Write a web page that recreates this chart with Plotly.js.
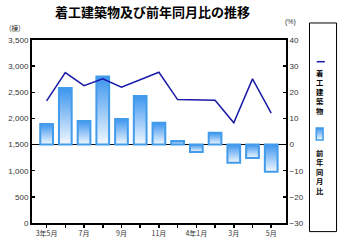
<!DOCTYPE html>
<html>
<head>
<meta charset="utf-8">
<script src="https://cdn.plot.ly/plotly-3.0.1.min.js"></script>
<style>html,body{margin:0;padding:0;background:#fff;}#chart{width:339px;height:240px;}</style>
</head>
<body>
<div id="chart"></div>
<script>
const categories = ['3年5月','6月','7月','8月','9月','10月','11月','12月','4年1月','2月','3月','4月','5月'];
const tickLabels = ['3年5月','','7月','','9月','','11月','','4年1月','','3月','','5月'];
const buildings = [2336, 2876, 2628, 2756, 2598, 2737, 2884, 2361, 2361, 2349, 1916, 2756, 2101];
const yoyPercent = [7.9, 21.6, 9.0, 26.0, 9.8, 18.6, 8.3, 1.4, -2.8, 4.5, -7.0, -5.1, -10.4];
const leftTicks = [0, 500, 1000, 1500, 2000, 2500, 3000, 3500];
const rightTicks = [-30, -20, -10, 0, 10, 20, 30, 40];

const tickFont = {family: 'Liberation Sans, Arial, sans-serif', size: 8, color: '#333'};
const cjk = 'Noto Sans CJK JP, sans-serif';

const traces = [
  {
    type: 'bar', name: '前年同月比', x: categories, y: yoyPercent, yaxis: 'y',
    width: 0.68,
    marker: {color: '#7fbcf3', line: {color: '#429ce9', width: 2}},
    hoverinfo: 'skip'
  },
  {
    type: 'scatter', mode: 'lines', name: '着工建築物', x: categories, y: buildings, yaxis: 'y2',
    line: {color: '#1a1aa8', width: 1.5},
    hoverinfo: 'skip'
  }
];

const layout = {
  width: 339, height: 240,
  margin: {l: 32, r: 53, t: 40, b: 17, pad: 0},
  paper_bgcolor: '#fff', plot_bgcolor: '#fff',
  showlegend: false,
  title: {
    text: '着工建築物及び前年同月比の推移',
    font: {family: cjk, size: 13, color: '#000', weight: 'bold'},
    xref: 'container', yref: 'container', x: 0.45, y: 0.948, xanchor: 'center', yanchor: 'middle'
  },
  xaxis: {
    type: 'category', range: [-0.78, 12.79],
    tickvals: categories, ticktext: tickLabels,
    ticks: 'outside', ticklen: 3, tickwidth: 1.5, tickcolor: '#000',
    showline: true, linecolor: '#000', linewidth: 2, mirror: true,
    showgrid: false, zeroline: false,
    tickfont: {family: cjk, size: 7, color: '#333'}
  },
  yaxis: {
    side: 'right', range: [-30, 40], tickvals: rightTicks,
    ticks: 'inside', ticklen: 3, tickwidth: 1.5, tickcolor: '#000',
    showline: true, linecolor: '#000', linewidth: 2,
    showgrid: false, zeroline: true, zerolinecolor: '#000', zerolinewidth: 1,
    tickfont: tickFont
  },
  yaxis2: {
    overlaying: 'y', side: 'left', range: [0, 3500], tickvals: leftTicks, tickformat: ',',
    ticks: 'inside', ticklen: 3, tickwidth: 1.5, tickcolor: '#000',
    showline: true, linecolor: '#000', linewidth: 2,
    showgrid: false, zeroline: false,
    tickfont: tickFont
  },
  shapes: [
    {type: 'rect', xref: 'paper', yref: 'paper', x0: 1.0925, x1: 1.199, y0: -0.047, y1: 1.093,
     line: {color: '#000', width: 1}, fillcolor: 'rgba(0,0,0,0)'},
    {type: 'line', xref: 'paper', yref: 'paper', x0: 1.121, x1: 1.153, y0: 0.8814, y1: 0.8814,
     line: {color: '#1a1aa8', width: 1.5}},
    {type: 'rect', xref: 'paper', yref: 'paper', x0: 1.119, x1: 1.146, y0: 0.454, y1: 0.519,
     line: {color: '#429ce9', width: 1.5}, fillcolor: '#8cc3f4'}
  ],
  annotations: [
    {text: '(棟)', xref: 'paper', yref: 'paper', x: -0.067, y: 1.066, xanchor: 'center', yanchor: 'middle',
     showarrow: false, font: {family: cjk, size: 7, color: '#333'}},
    {text: '(%)', xref: 'paper', yref: 'paper', x: 1.016, y: 1.098, xanchor: 'center', yanchor: 'middle',
     showarrow: false, font: {family: tickFont.family, size: 7, color: '#333'}},
    {text: '着<br>工<br>建<br>築<br>物', xref: 'paper', yref: 'paper', x: 1.134, y: 0.717,
     xanchor: 'center', yanchor: 'middle',
     showarrow: false, font: {family: cjk, size: 7.3, color: '#000', weight: 'bold'}},
    {text: '前<br>年<br>同<br>月<br>比', xref: 'paper', yref: 'paper', x: 1.134, y: 0.279,
     xanchor: 'center', yanchor: 'middle',
     showarrow: false, font: {family: cjk, size: 7.3, color: '#000', weight: 'bold'}}
  ]
};

Plotly.newPlot('chart', traces, layout, {displayModeBar: false, staticPlot: true}).then(function (gd) {
  const svg = gd.querySelector('.main-svg');
  const ns = 'http://www.w3.org/2000/svg';
  let defs = svg.querySelector('defs');
  if (!defs) { defs = document.createElementNS(ns, 'defs'); svg.insertBefore(defs, svg.firstChild); }
  const grad = document.createElementNS(ns, 'linearGradient');
  grad.setAttribute('id', 'barGrad');
  grad.setAttribute('x1', '0'); grad.setAttribute('y1', '0');
  grad.setAttribute('x2', '0'); grad.setAttribute('y2', '1');
  [['0', '#3c95ee'], ['1', '#f2f8ff']].forEach(function (s) {
    const stop = document.createElementNS(ns, 'stop');
    stop.setAttribute('offset', s[0]); stop.setAttribute('stop-color', s[1]);
    grad.appendChild(stop);
  });
  defs.appendChild(grad);
  gd.querySelectorAll('.barlayer .point path').forEach(function (p) { p.style.fill = 'url(#barGrad)'; });
  gd.querySelectorAll('.shapelayer path').forEach(function (p) {
    if ((p.style.fill || '').indexOf('140, 195, 244') >= 0) p.style.fill = 'url(#barGrad)';
  });
});
</script>
</body>
</html>
